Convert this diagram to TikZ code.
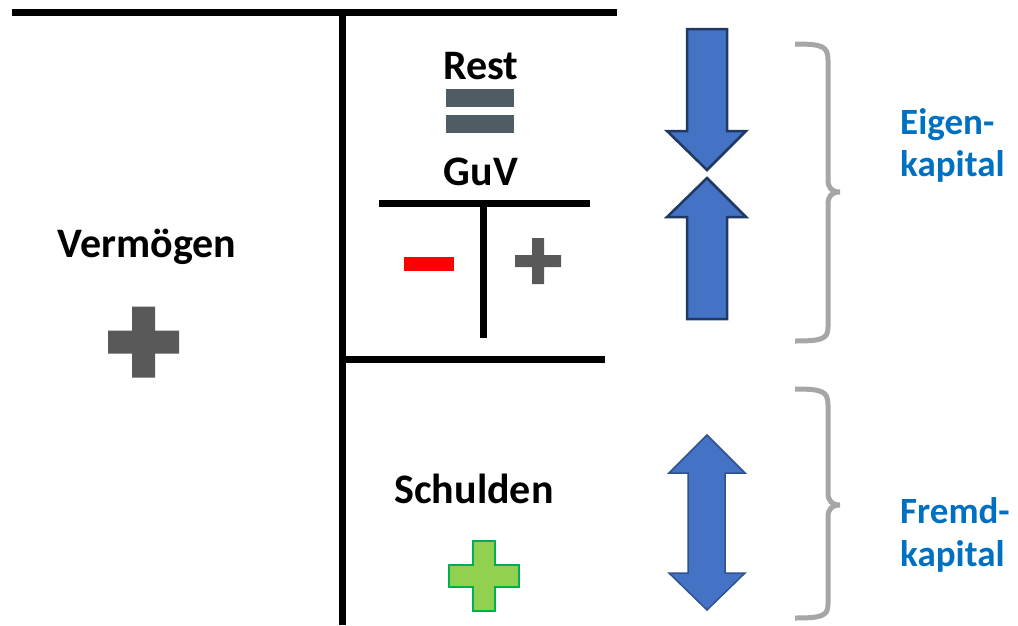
\documentclass[tikz,border=0pt]{standalone}
\usepackage{fontspec}
\setmainfont{Carlito}
\definecolor{acc}{HTML}{0070C0}
\definecolor{arrfill}{HTML}{4472C4}
\definecolor{arrdark}{HTML}{1F3864}
\definecolor{arrmid}{HTML}{2F528F}
\definecolor{braceg}{HTML}{A6A6A6}
\definecolor{plusg}{HTML}{595959}
\definecolor{eqg}{HTML}{505C63}
\definecolor{greenf}{HTML}{92D050}
\definecolor{greend}{HTML}{00B050}
\newcommand{\myplus}[5]{%
  \path[#1] ({#2-#4},{#3-#5}) -- ({#2-#5},{#3-#5}) -- ({#2-#5},{#3-#4}) -- ({#2+#5},{#3-#4})
   -- ({#2+#5},{#3-#5}) -- ({#2+#4},{#3-#5}) -- ({#2+#4},{#3+#5}) -- ({#2+#5},{#3+#5})
   -- ({#2+#5},{#3+#4}) -- ({#2-#5},{#3+#4}) -- ({#2-#5},{#3+#5}) -- ({#2-#4},{#3+#5}) -- cycle;}
\tikzset{
  lbl/.style={font=\fontsize{42}{46}\selectfont\bfseries, anchor=base, inner sep=0pt},
  side/.style={font=\fontsize{37}{41}\selectfont\bfseries, anchor=base west, inner sep=0pt, text=acc},
  tline/.style={line width=7pt, line cap=rect},
  brace/.style={line width=5pt, draw=braceg},
}
\begin{document}
\begin{tikzpicture}[x=1pt,y=-1pt]
\useasboundingbox (0,0) rectangle (1018,625);
% T-account lines
\draw[tline] (15,12) -- (613,12);
\draw[tline,line cap=butt] (342,12) -- (342,625);
\draw[tline] (342,359) -- (601,359);
\draw[tline] (382,203) -- (586,203);
\draw[tline,line cap=butt] (483,203) -- (483,338);
% texts
\node[lbl] (verm) at (147,257) {Vermögen};
\node[lbl] (rest) at (481,79) {Rest};
\node[lbl] (guv) at (481,185) {GuV};
\node[lbl] (schulden) at (474,503) {Schulden};
\node[side] (eigen) at (900,134) {Eigen-};
\node[side] (kap1) at (900,176) {kapital};
\node[side] (fremd) at (900,523) {Fremd-};
\node[side] (kap2) at (900,566) {kapital};
% equals
\fill[eqg] (446,89) rectangle (514,107);
\fill[eqg] (446,115) rectangle (514,133);
% minus / plus
\fill[red] (404,257) rectangle (454,271);
\myplus{fill=plusg}{538}{261}{23}{6}
\myplus{fill=plusg}{143.5}{342}{35.5}{11.5}
\myplus{fill=greenf,draw=greend,line width=1.5pt}{484}{576}{35}{11}
% arrows
\draw[fill=arrfill,draw=arrdark,line width=2.5pt,line join=miter]
  (687,29) -- (727,29) -- (727,131) -- (746,131) -- (707,170) -- (667,131) -- (687,131) -- cycle;
\draw[fill=arrfill,draw=arrdark,line width=2.5pt,line join=miter]
  (707,178) -- (746,217) -- (727,217) -- (727,319) -- (687,319) -- (687,217) -- (667,217) -- cycle;
\draw[fill=arrfill,draw=arrmid,line width=1.5pt,line join=miter]
  (707,435) -- (745,473) -- (725,473) -- (725,573) -- (745,573) -- (707,610) -- (669,573)
  -- (688,573) -- (688,473) -- (669,473) -- cycle;
% braces
\draw[brace] (795,44) .. controls (822,44) and (828,46) .. (828,60) -- (828,180)
  .. controls (828,188) and (832,192) .. (840,192)
  .. controls (832,192) and (828,196) .. (828,204) -- (828,327)
  .. controls (828,339) and (822,341) .. (795,341);
\draw[brace] (795,389) .. controls (822,389) and (828,391) .. (828,405) -- (828,493)
  .. controls (828,501) and (832,505) .. (840,505)
  .. controls (832,505) and (828,509) .. (828,517) -- (828,604)
  .. controls (828,616) and (822,618) .. (795,618);
\end{tikzpicture}
\end{document}
